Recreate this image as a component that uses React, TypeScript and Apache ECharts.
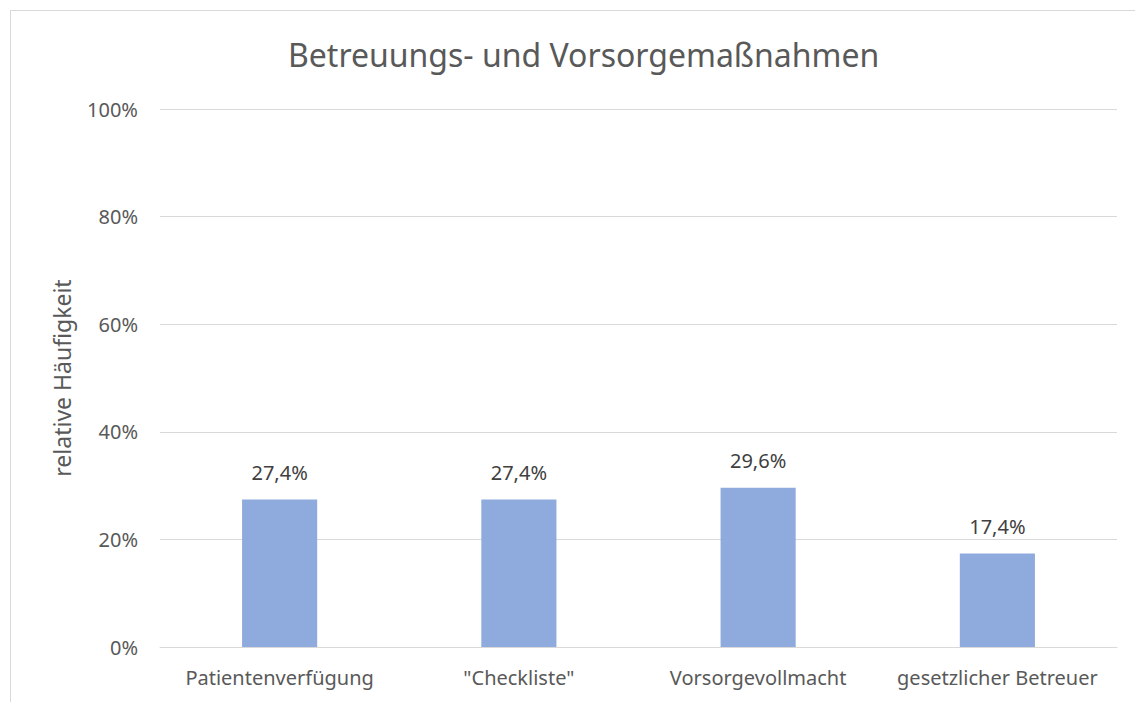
import React, { useEffect, useRef } from "react";
import * as echarts from "echarts";

const categories = ["Patientenverfügung", "\"Checkliste\"", "Vorsorgevollmacht", "gesetzlicher Betreuer"];
const values = [27.4, 27.4, 29.6, 17.4];
const yTicks = [0, 20, 40, 60, 80, 100];
const titleText = "Betreuungs- und Vorsorgemaßnahmen";
const yAxisName = "relative Häufigkeit";

const FONT = "'Noto Sans', 'Open Sans', sans-serif";
const TEXT = "#595959";

export default function App() {
  const ref = useRef<HTMLDivElement>(null);
  useEffect(() => {
    document.body.style.margin = "0";
    const chart = echarts.init(ref.current!, undefined, { renderer: "svg" });
    chart.setOption({
      animation: false,
      backgroundColor: "#ffffff",
      title: {
        text: titleText,
        left: 283,
        top: 33,
        textStyle: { fontFamily: FONT, fontSize: 32, fontWeight: "normal", color: TEXT },
      },
      graphic: [
        {
          type: "rect",
          shape: { x: 10.5, y: 10.5, width: 1140, height: 700 },
          style: { fill: "none", stroke: "#d9d9d9", lineWidth: 1 },
          silent: true,
          z: -1,
        },
      ],
      grid: { left: 160, right: 18, top: 109, bottom: 55 },
      xAxis: {
        type: "category",
        data: categories,
        axisLine: { show: true, lineStyle: { color: "#d9d9d9", width: 1 } },
        axisTick: { show: false },
        axisLabel: { fontFamily: FONT, fontSize: 20, color: TEXT, margin: 20, interval: 0 },
      },
      yAxis: {
        type: "value",
        min: 0,
        max: 100,
        interval: 20,
        name: yAxisName,
        nameLocation: "middle",
        nameGap: 87,
        nameRotate: 90,
        nameTextStyle: { fontFamily: FONT, fontSize: 23, color: TEXT },
        axisLine: { show: false },
        axisTick: { show: false },
        splitLine: { lineStyle: { color: "#d9d9d9", width: 1 } },
        axisLabel: {
          fontFamily: FONT,
          fontSize: 20,
          color: TEXT,
          margin: 22,
          formatter: (v: number) => (yTicks.includes(v) ? `${v}%` : ""),
        },
      },
      series: [
        {
          type: "bar",
          data: values,
          barWidth: "31.4%",
          itemStyle: { color: "#8FAADC" },
          label: {
            show: true,
            position: "top",
            distance: 17,
            fontFamily: FONT,
            fontSize: 20,
            color: "#404040",
            formatter: (p: any) => `${p.value.toFixed(1).replace(".", ",")}%`,
          },
        },
      ],
    });
    return () => chart.dispose();
  }, []);
  return <div ref={ref} style={{ width: 1135, height: 702 }} />;
}
